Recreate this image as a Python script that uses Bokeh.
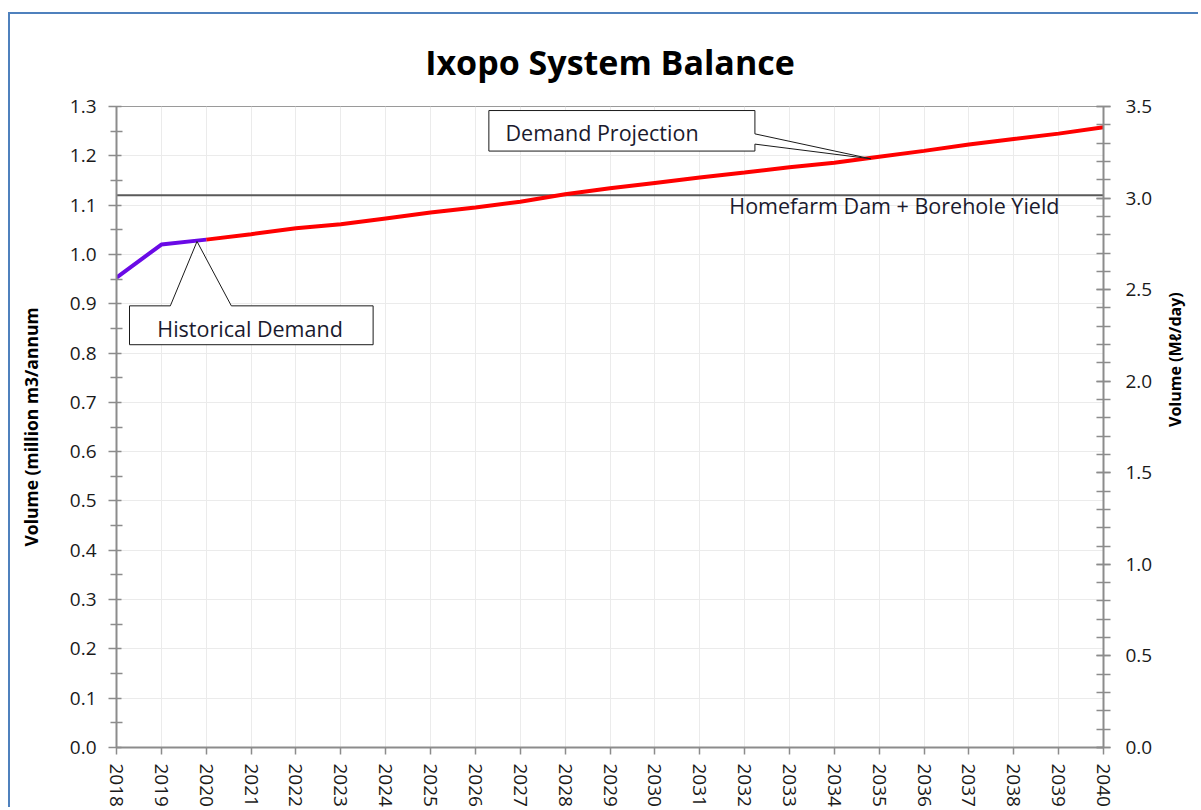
import math
from bokeh.plotting import figure
from bokeh.models import Range1d, LinearAxis, FixedTicker, PrintfTickFormatter
from bokeh.core.properties import value
from bokeh.embed import file_html
from bokeh.resources import INLINE

# ---------------- data ----------------
hist_years = [2018, 2019, 2020]
hist_demand = [0.953, 1.020, 1.030]

proj_years = list(range(2020, 2041))
proj_demand = [1.030, 1.041, 1.053, 1.061, 1.073, 1.085, 1.095, 1.107, 1.122,
               1.134, 1.145, 1.156, 1.166, 1.177, 1.186, 1.198, 1.210, 1.223,
               1.234, 1.245, 1.258]

yield_years = [2018, 2040]
yield_value = [1.12, 1.12]

year_ticks = list(range(2018, 2041))
left_ticks = [round(i * 0.1, 1) for i in range(14)]
left_minor = [round(0.05 + i * 0.1, 2) for i in range(13)]
right_ticks = [round(i * 0.5, 1) for i in range(8)]
right_minor = [round(i * 0.1, 1) for i in range(36)]

title_text = "Ixopo System Balance"
left_label = "Volume (million m3/annum"
right_label = "Volume (M\u2113/day)"
FONT = "Open Sans"

# ---------------- figure ----------------
p = figure(width=1190, height=795, output_backend="svg", toolbar_location=None,
           x_range=Range1d(2018, 2040), y_range=Range1d(0, 1.3),
           min_border_left=106, min_border_right=94, min_border_top=91,
           min_border_bottom=60)
p.styles = {"margin-left": "8px", "margin-top": "12px",
            "border-left": "2px solid #4f81bd", "border-top": "2px solid #4f81bd"}
p.extra_y_ranges = {"mld": Range1d(0, 3.5)}

p.background_fill_color = "white"
p.border_fill_color = "white"
p.outline_line_color = "#9a9a9a"
p.outline_line_width = 1

# title
p.title.text = title_text
p.title.align = "center"
p.title.text_font = FONT
p.title.text_font_size = "34px"
p.title.text_font_style = "bold"
p.title.text_color = "#000000"
p.title.standoff = 44

# grids
p.xgrid.ticker = FixedTicker(ticks=year_ticks)
p.ygrid.ticker = FixedTicker(ticks=left_ticks)
p.xgrid.grid_line_color = "#ebebeb"
p.ygrid.grid_line_color = "#ebebeb"

axis_col = "#8c8c8c"
label_col = "#1a1a1a"

# x axis
xa = p.xaxis[0]
xa.ticker = FixedTicker(ticks=year_ticks)
xa.major_label_orientation = "vertical"
xa.major_label_text_font = FONT
xa.major_label_text_font_size = "19px"
xa.major_label_text_color = label_col
xa.major_label_standoff = 9
xa.axis_line_color = axis_col
xa.axis_line_width = 2
xa.major_tick_line_color = axis_col
xa.major_tick_line_width = 1.5
xa.major_tick_in = 0
xa.major_tick_out = 7
xa.minor_tick_line_color = None

# left axis
ya = p.yaxis[0]
ya.ticker = FixedTicker(ticks=left_ticks, minor_ticks=left_minor)
ya.formatter = PrintfTickFormatter(format="%.1f")
ya.major_label_text_font = FONT
ya.major_label_text_font_size = "19px"
ya.major_label_text_color = label_col
ya.major_label_standoff = 12
ya.axis_line_color = axis_col
ya.axis_line_width = 2
ya.major_tick_line_color = axis_col
ya.major_tick_line_width = 1.5
ya.major_tick_in = 5
ya.major_tick_out = 8
ya.minor_tick_line_color = axis_col
ya.minor_tick_line_width = 1.5
ya.minor_tick_in = 6
ya.minor_tick_out = 6
ya.axis_label = left_label
ya.axis_label_text_font = FONT
ya.axis_label_text_font_size = "17.5px"
ya.axis_label_text_font_style = "bold"
ya.axis_label_text_color = "#000000"
ya.axis_label_standoff = 24

# right axis
ra = LinearAxis(y_range_name="mld",
                ticker=FixedTicker(ticks=right_ticks, minor_ticks=right_minor),
                formatter=PrintfTickFormatter(format="%.1f"))
ra.major_label_text_font = FONT
ra.major_label_text_font_size = "19px"
ra.major_label_text_color = label_col
ra.major_label_standoff = 15
ra.axis_line_color = axis_col
ra.axis_line_width = 2
ra.major_tick_line_color = axis_col
ra.major_tick_line_width = 1.5
ra.major_tick_in = 7
ra.major_tick_out = 7
ra.minor_tick_line_color = axis_col
ra.minor_tick_line_width = 1.5
ra.minor_tick_in = 7
ra.minor_tick_out = 7
ra.axis_label = right_label
ra.axis_label_orientation = math.pi / 2
ra.axis_label_text_font = FONT
ra.axis_label_text_font_size = "16px"
ra.axis_label_text_font_style = "bold"
ra.axis_label_text_color = "#000000"
ra.axis_label_standoff = 20
p.add_layout(ra, "right")

# ---------------- series ----------------
p.line(yield_years, yield_value, line_color="#5a5a5a", line_width=2)
p.line(proj_years, proj_demand, line_color="#ff0000", line_width=4)
p.line(hist_years, hist_demand, line_color="#6a0ae6", line_width=4)

# ---------------- callouts ----------------
ANN_SIZE = "21.5px"
ANN_COL = "#1a1a2e"

# Demand Projection callout (box with wedge pointing to the projection line)
dp_x0, dp_x1, dp_yt, dp_yb = 2026.30, 2032.23, 1.2918, 1.2096
dp_a1, dp_a2 = 1.2445, 1.2237
dp_tip = (2034.81, 1.194)
p.patch([dp_x0, dp_x1, dp_x1, dp_tip[0], dp_x1, dp_x1, dp_x0],
        [dp_yt, dp_yt, dp_a1, dp_tip[1], dp_a2, dp_yb, dp_yb],
        fill_color="white", line_color="#1a1a1a", line_width=1)
p.text([2026.67], [1.2478], text=["Demand Projection"], text_font=value(FONT),
       text_font_size=ANN_SIZE, text_baseline="middle", text_align="left",
       text_color=ANN_COL)

# Historical Demand callout
hd_x0, hd_x1, hd_yt, hd_yb = 2018.29, 2023.72, 0.8957, 0.8169
hd_a1, hd_a2 = 2019.20, 2020.56
hd_tip = (2019.795, 1.0263)
p.patch([hd_x0, hd_a1, hd_tip[0], hd_a2, hd_x1, hd_x1, hd_x0],
        [hd_yt, hd_yt, hd_tip[1], hd_yt, hd_yt, hd_yb, hd_yb],
        fill_color="white", line_color="#1a1a1a", line_width=1)
p.text([2018.91], [0.8504], text=["Historical Demand"], text_font=value(FONT),
       text_font_size=ANN_SIZE, text_baseline="middle", text_align="left",
       text_color=ANN_COL)

# yield label
p.text([2031.66], [1.0984], text=["Homefarm Dam + Borehole Yield"],
       text_font=value(FONT), text_font_size=ANN_SIZE, text_baseline="middle",
       text_align="left", text_color=ANN_COL)

open("out.html", "w").write(file_html(p, INLINE))
